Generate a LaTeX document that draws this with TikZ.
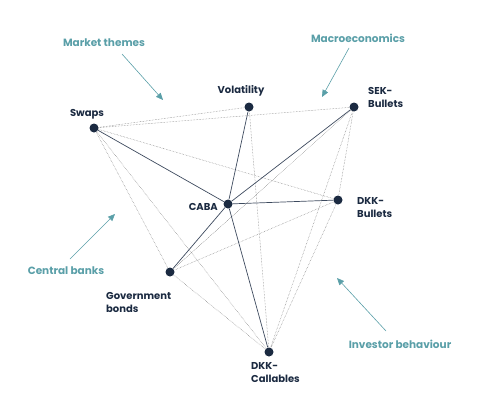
\documentclass[tikz,border=0pt]{standalone}
\usepackage{fontspec}
\setmainfont{Poppins}
\usetikzlibrary{positioning, arrows.meta}
\definecolor{navy}{HTML}{1B2A41}
\definecolor{teal}{HTML}{5A9FA8}
\begin{document}
\begin{tikzpicture}[
    x=1pt, y=-1pt,
    hub/.style={circle, fill=navy, inner sep=0pt, minimum size=9pt},
    lbl/.style={font=\fontsize{10}{13}\selectfont\bfseries, text=navy, align=left, inner sep=1pt},
    theme/.style={font=\fontsize{10.5}{13}\selectfont\bfseries, text=teal, inner sep=1pt},
    strong/.style={navy!85, line width=0.7pt},
    weak/.style={gray, densely dotted, line width=0.5pt},
    pointer/.style={-{Triangle[length=7pt, width=6pt]}, teal, line width=0.6pt}
]
    \useasboundingbox (0,0) rectangle (500,415);

    % --- nodes ---
    \node[hub] (swaps) at (94,128) {};
    \node[hub] (vol) at (249,107) {};
    \node[hub] (sek) at (354,107) {};
    \node[hub] (caba) at (228,204) {};
    \node[hub] (dkkb) at (338,200) {};
    \node[hub] (gov) at (170,272) {};
    \node[hub] (dkkc) at (269,352) {};

    % --- labels ---
    \node[lbl] at (87,114) {Swaps};
    \node[lbl] at (241,91) {Volatility};
    \node[lbl, anchor=west] at (367,97) {SEK-\\Bullets};
    \node[lbl, anchor=east] at (219,207) {CABA};
    \node[lbl, anchor=west] at (356,208) {DKK-\\Bullets};
    \node[lbl, anchor=west] at (105,302) {Government\\bonds};
    \node[lbl, anchor=west] at (250,373) {DKK-\\Callables};

    % --- weak links ---
    \foreach \a/\b in {swaps/vol, swaps/sek, swaps/dkkb, swaps/gov, swaps/dkkc,
                       vol/dkkc, sek/gov, sek/dkkc, sek/dkkb, dkkb/gov, dkkb/dkkc, gov/dkkc}
        \draw[weak] (\a) -- (\b);

    % --- strong links ---
    \foreach \b in {swaps, vol, sek, dkkb, gov, dkkc}
        \draw[strong] (caba) -- (\b);

    % --- themes ---
    \node[theme] (mkt) at (104,43) {Market themes};
    \node[theme] (macro) at (358,38) {Macroeconomics};
    \node[theme] (cb) at (66,271) {Central banks};
    \node[theme] (inv) at (400,344) {Investor behaviour};
    \coordinate (mkt-tip) at (163,100);
    \coordinate (macro-tip) at (322,97);
    \coordinate (cb-tip) at (115,214);
    \coordinate (inv-tip) at (337,278);
    \draw[pointer] (122,54) -- (mkt-tip);
    \draw[pointer] (349,48) -- (macro-tip);
    \draw[pointer] (70,259) -- (cb-tip);
    \draw[pointer] (386,331) -- (inv-tip);
\end{tikzpicture}
\end{document}
